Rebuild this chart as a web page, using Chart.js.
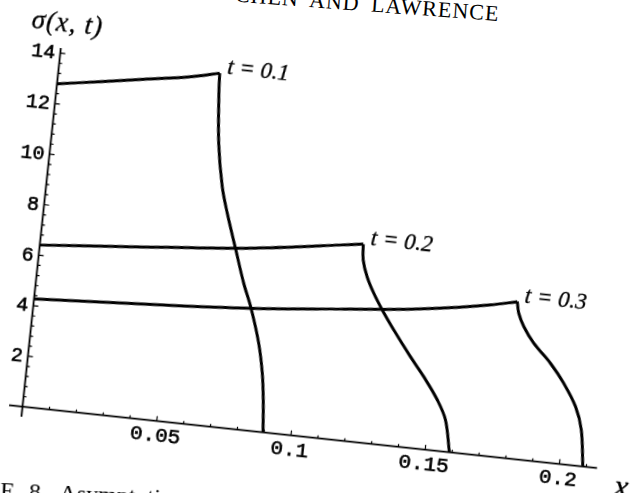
<!DOCTYPE html>
<html>
<head>
<meta charset="utf-8">
<script src="https://cdn.jsdelivr.net/npm/chart.js@4.4.1/dist/chart.umd.min.js"></script>
<style>
  html, body { margin: 0; padding: 0; background: #fff; }
  #page { position: relative; width: 630px; height: 493px; overflow: hidden; background: #fff; }
  #plot { position: absolute; width: 680px; height: 450px; }
  .scan { position: absolute; white-space: nowrap; font-family: 'Liberation Serif', serif; color: #000; line-height: 1; }
  #header { right: 131px; top: 3px; font-size: 22px; letter-spacing: 1px; word-spacing: 5px;
            transform-origin: 100% 18px; transform: rotate(4.2deg); }
  #caption { left: -72px; top: 478px; font-size: 24px; word-spacing: 8px;
             transform-origin: 72px 18px; transform: rotate(2.5deg); }
</style>
</head>
<body>
<div id="page">
  <div id="header" class="scan">CHEN AND LAWRENCE</div>
  <div id="plot"><canvas id="chart"></canvas></div>
  <div id="caption" class="scan">FIGURE 8. Asymptotic</div>
</div>
<script>
// sigma(x,t), split at the corner where the plateau meets the front
const t1TopX = [0, 0.0159, 0.0318, 0.0489, 0.0595];
const t1TopY = [12.78, 13.05, 13.32, 13.62, 13.88];
const t1FrontX = [0.0595, 0.0600, 0.0619, 0.0649, 0.0678, 0.0722, 0.0766, 0.0803, 0.0845, 0.0870, 0.0884, 0.0896];
const t1FrontY = [13.88, 13.09, 11.13, 9.45, 8.43, 7.09, 5.76, 4.81, 3.47, 2.31, 1.27, 0];

const t2TopX = [0, 0.030, 0.0714, 0.0921, 0.1107, 0.1191];
const t2TopY = [6.40, 6.68, 7.08, 7.36, 7.66, 7.79];
const t2FrontX = [0.1191, 0.1197, 0.1218, 0.1249, 0.1287, 0.1337, 0.1409, 0.1466, 0.1525, 0.1563, 0.1590];
const t2FrontY = [7.79, 7.17, 6.53, 5.91, 5.29, 4.56, 3.58, 2.85, 2.00, 1.25, 0];

const t3TopX = [0, 0.047, 0.0797, 0.1133, 0.1378, 0.1562, 0.1683, 0.1781];
const t3TopY = [4.27, 4.56, 4.80, 5.15, 5.42, 5.71, 5.94, 6.18];
const t3FrontX = [0.1781, 0.1791, 0.1815, 0.1858, 0.1927, 0.1984, 0.2037, 0.2067, 0.2087];
const t3FrontY = [6.18, 5.73, 5.23, 4.62, 3.91, 3.18, 2.31, 1.43, 0];

const curveLabels = ['t = 0.1', 't = 0.2', 't = 0.3'];

const xTickValues = [0.05, 0.1, 0.15, 0.2];
const xTickLabels = ['0.05', '0.1', '0.15', '0.2'];
const yTickValues = [2, 4, 6, 8, 10, 12, 14];
const yTickLabels = ['2', '4', '6', '8', '10', '12', '14'];

const xMin = -0.005, xMax = 0.214, xMinorStep = 0.01;
const yMin = -0.4, yMax = 14.2, yMinorStep = 0.4;

const toPoints = (xs, ys) => xs.map((v, i) => ({ x: v, y: ys[i] }));

const curves = [
    [t1TopX, t1TopY, t1FrontX, t1FrontY],
    [t2TopX, t2TopY, t2FrontX, t2FrontY],
    [t3TopX, t3TopY, t3FrontX, t3FrontY],
];

const datasets = [];
curves.forEach(([tx, ty, fx, fy], i) => {
    [toPoints(tx, ty), toPoints(fx, fy)].forEach((pts) => {
        datasets.push({
            label: curveLabels[i],
            data: pts,
            showLine: true,
            borderColor: '#000',
            borderWidth: 3,
            pointRadius: 0,
            tension: 0.35,
            borderJoinStyle: 'round',
            fill: false,
        });
    });
});

// scanned ink is heavier than the font, so fill and then stroke thinly
const inkText = (ctx, str, x, y, w) => {
    ctx.fillText(str, x, y);
    ctx.lineWidth = w;
    ctx.strokeText(str, x, y);
};

// Mathematica style axes: crossing at the origin, ticks pointing inward
const axesPlugin = {
    id: 'originAxes',
    afterDatasetsDraw(chart) {
        const { ctx } = chart;
        const xs = chart.scales.x, ys = chart.scales.y;
        const x0 = xs.getPixelForValue(0), y0 = ys.getPixelForValue(0);
        ctx.save();
        ctx.strokeStyle = '#000';
        ctx.fillStyle = '#000';

        ctx.lineWidth = 1.8;
        ctx.beginPath();
        ctx.moveTo(xs.getPixelForValue(xMin), y0);
        ctx.lineTo(xs.getPixelForValue(xMax), y0);
        ctx.moveTo(x0, ys.getPixelForValue(yMin));
        ctx.lineTo(x0, ys.getPixelForValue(yMax));
        ctx.stroke();

        ctx.lineWidth = 1.2;
        ctx.beginPath();
        for (let i = 1; i * xMinorStep <= xMax + 1e-9; i++) {
            const px = xs.getPixelForValue(i * xMinorStep);
            const len = i % 5 === 0 ? 5 : 3;
            ctx.moveTo(px, y0);
            ctx.lineTo(px, y0 - len);
        }
        for (let i = 1; i * yMinorStep <= yMax + 1e-9; i++) {
            const py = ys.getPixelForValue(i * yMinorStep);
            const len = i % 5 === 0 ? 5 : 3;
            ctx.moveTo(x0, py);
            ctx.lineTo(x0 + len, py);
        }
        ctx.stroke();

        ctx.font = '21px "Liberation Mono", monospace';
        ctx.textAlign = 'center';
        ctx.textBaseline = 'top';
        xTickValues.forEach((v, i) => inkText(ctx, xTickLabels[i], xs.getPixelForValue(v), y0 + 4, 0.6));

        ctx.font = '20px "Liberation Mono", monospace';
        ctx.textAlign = 'right';
        ctx.textBaseline = 'middle';
        yTickValues.forEach((v, i) => inkText(ctx, yTickLabels[i], x0 - 5, ys.getPixelForValue(v) + 1, 0.6));

        ctx.font = 'italic 23px "Liberation Serif", serif';
        ctx.textAlign = 'left';
        curves.forEach(([tx, ty], i) => {
            const cx = xs.getPixelForValue(tx[tx.length - 1]);
            const cy = ys.getPixelForValue(ty[ty.length - 1]);
            inkText(ctx, curveLabels[i], cx + 7, cy - 6, 0.3);
        });

        ctx.textAlign = 'center';
        ctx.letterSpacing = '1px';
        ctx.font = 'italic 27px "Liberation Serif", serif';
        inkText(ctx, '\u03C3(x, t)', x0 + 4, ys.getPixelForValue(yMax) - 24, 0.3);
        ctx.letterSpacing = '0px';
        ctx.font = 'italic 32px "Liberation Serif", serif';
        inkText(ctx, 'x', xs.getPixelForValue(xMax) + 26, y0 + 18, 0.3);
        ctx.restore();
    },
};

const chart = new Chart(document.getElementById('chart'), {
    type: 'scatter',
    data: { datasets },
    options: {
        responsive: true,
        maintainAspectRatio: false,
        animation: false,
        events: [],
        layout: { padding: { left: 45, right: 43.7, top: 45, bottom: 34.16 } },
        plugins: { legend: { display: false }, tooltip: { enabled: false } },
        scales: {
            x: { type: 'linear', min: xMin, max: xMax, display: false },
            y: { type: 'linear', min: yMin, max: yMax, display: false },
        },
    },
    plugins: [axesPlugin],
});

// the scanned figure sits tilted on the page: turn the plot about its origin
const plot = document.getElementById('plot');
const ox = chart.scales.x.getPixelForValue(0);
const oy = chart.scales.y.getPixelForValue(0);
plot.style.left = (22 - ox) + 'px';
plot.style.top = (406.7 - oy) + 'px';
plot.style.transformOrigin = ox + 'px ' + oy + 'px';
plot.style.transform = 'rotate(6.1deg)';
</script>
</body>
</html>
